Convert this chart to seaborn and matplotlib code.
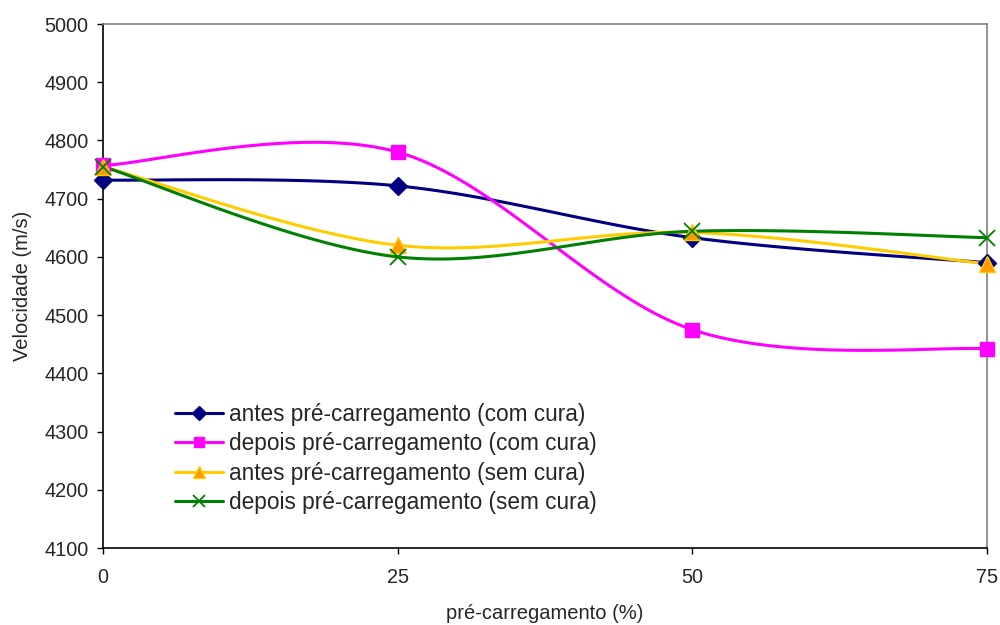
import numpy as np
import pandas as pd
import matplotlib
matplotlib.use("Agg")
import matplotlib.pyplot as plt
from matplotlib.lines import Line2D
import seaborn as sns

# data
preload = [0, 25, 50, 75]
antes_com_cura = [4732, 4722, 4633, 4590]
depois_com_cura = [4757, 4780, 4475, 4442]
antes_sem_cura = [4755, 4620, 4642, 4588]
depois_sem_cura = [4755, 4600, 4644, 4633]

labels = ["antes pré-carregamento (com cura)",
          "depois pré-carregamento (com cura)",
          "antes pré-carregamento (sem cura)",
          "depois pré-carregamento (sem cura)"]


def excel_smooth(x, y, n=40):
    # Excel-style smoothed line (Catmull-Rom as cubic Bezier)
    p = np.column_stack([x, y]).astype(float)
    out = [p[0]]
    for i in range(len(p) - 1):
        p0 = p[i - 1] if i > 0 else p[i]
        p1, p2 = p[i], p[i + 1]
        p3 = p[i + 2] if i + 2 < len(p) else p[i + 1]
        c1 = p1 + (p2 - p0) / 6
        c2 = p2 - (p3 - p1) / 6
        t = np.linspace(0, 1, n)[1:, None]
        seg = ((1 - t) ** 3) * p1 + 3 * ((1 - t) ** 2) * t * c1 + 3 * (1 - t) * t ** 2 * c2 + t ** 3 * p2
        out.extend(seg)
    out = np.array(out)
    return out[:, 0], out[:, 1]


sns.set_style("white")
plt.rcParams['font.family'] = ['Liberation Sans', 'DejaVu Sans']

fig, ax = plt.subplots(figsize=(10, 6.25), dpi=100)
fig.subplots_adjust(left=0.103, right=0.987, top=0.9616, bottom=0.1232)

series = [antes_com_cura, depois_com_cura, antes_sem_cura, depois_sem_cura]
styles = [
    dict(color='#000080', marker='D', ms=9, lms=7, mfc='#000080', mec='#000080', mew=1),
    dict(color='#FF00FF', marker='s', ms=10, lms=7.5, mfc='#FF00FF', mec='#FF00FF', mew=1),
    dict(color='#FFCC00', marker='^', ms=11, lms=9, mfc='#FF9900', mec='#FFCC00', mew=1),
    dict(color='#008000', marker='x', ms=11, lms=9, mfc='none', mec='#008000', mew=1.3),
]

handles = []
for vals, st, lab in zip(series, styles, labels):
    xs, ys = excel_smooth(preload, vals)
    sns.lineplot(x=xs, y=ys, sort=False, color=st['color'], lw=2.2, ax=ax, estimator=None)
    ax.plot(preload, vals, linestyle='none', marker=st['marker'], ms=st['ms'],
            mfc=st['mfc'], mec=st['mec'], mew=st['mew'], clip_on=False, zorder=3)
    handles.append(Line2D([0], [0], color=st['color'], lw=2.2, marker=st['marker'],
                          ms=st['lms'], mfc=st['mfc'], mec=st['mec'], mew=st['mew']))

ax.set_xlim(0, 75)
ax.set_ylim(4100, 5000)
ax.set_xticks(preload)
ax.set_yticks(np.arange(4100, 5001, 100))
ax.tick_params(axis='both', labelsize=14.3, length=4.5, width=1, color='black',
               direction='out', left=True, bottom=True)
ax.tick_params(axis='y', pad=6)
ax.tick_params(axis='x', pad=10)

for s in ['left', 'bottom']:
    ax.spines[s].set_color('black')
    ax.spines[s].set_linewidth(1.2)
for s in ['top', 'right']:
    ax.spines[s].set_color('#808080')
    ax.spines[s].set_linewidth(1.2)

ax.set_xlabel("pré-carregamento (%)", fontsize=14.5, labelpad=12)
ax.set_ylabel("Velocidade (m/s)", fontsize=14.5, labelpad=9)

ax.legend(handles, labels, loc='upper left', bbox_to_anchor=(0.081, 0.277), frameon=False,
          fontsize=16.3, handlelength=2.12, handletextpad=0.27, labelspacing=0.28,
          borderpad=0, borderaxespad=0)

plt.savefig("out.png", dpi=100)
